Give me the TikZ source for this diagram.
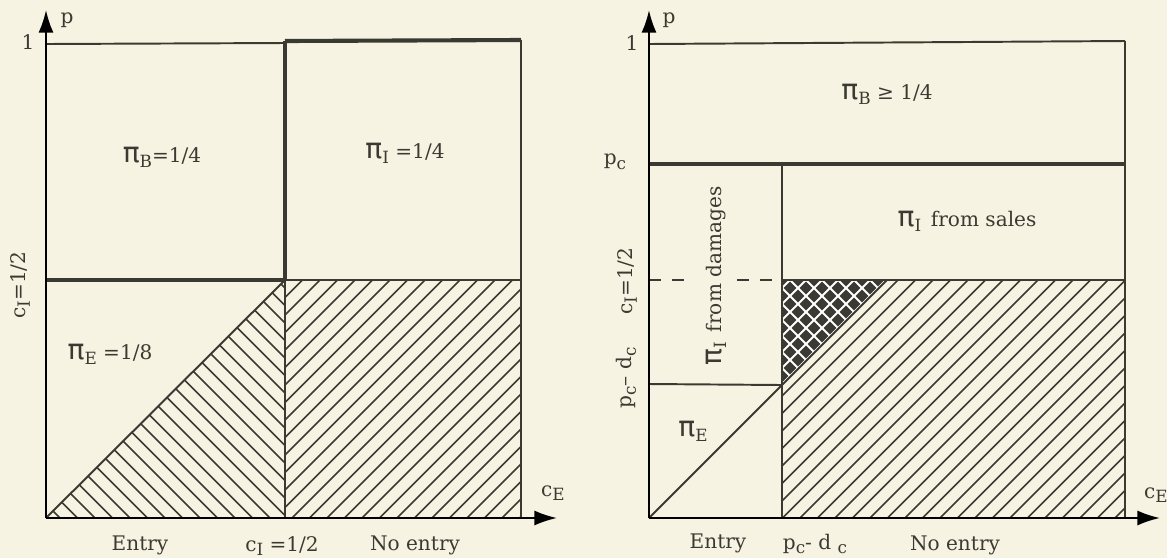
\documentclass[tikz,border=0pt]{standalone}
\usepackage{fontspec}
\setmainfont{DejaVu Serif}
\newfontfamily\greekfont{DejaVu Sans}
\usetikzlibrary{arrows.meta}
\definecolor{paper}{HTML}{F7F3E2}
\definecolor{ink}{HTML}{3A3A32}
\newcommand\bigpi{{\greekfont\fontsize{13}{13}\selectfont π}}
\newcommand\sub[1]{\raisebox{-0.45ex}{\fontsize{7.8}{8}\selectfont #1}}

\begin{document}
\begin{tikzpicture}[x=0.01627cm,y=-0.01627cm,
  axis/.style={-{Latex[length=10.5pt,width=7pt]},line width=1pt,black},
  edge/.style={line width=0.9pt,draw=ink},
  heavy/.style={line width=1.9pt,draw=ink},
  hatch/.style={line width=0.7pt,draw=ink},
  lbl/.style={font=\fontsize{9.3}{11}\selectfont,text=ink,inner sep=0pt}
]
\fill[paper] (0,0) rectangle (1167,558);
\useasboundingbox (0,0) rectangle (1167,558);

% left panel
\coordinate (o1) at (46,518);
\coordinate (ya) at (46,10);
\coordinate (xa) at (557,518);
\coordinate (mid) at (285,280);
\begin{scope}
  \clip (o1) -- (mid) -- (285,518) -- cycle;
  \foreach \k in {0,...,28} \draw[hatch] ({60+17.5*\k},518) -- ++(-260,-260);
\end{scope}
\begin{scope}
  \clip (285,280) rectangle (521,518);
  \foreach \k in {-15,...,14} \draw[hatch] ({292+17.5*\k},518) -- ++(260,-260);
\end{scope}
\draw[edge] (46,44) -- (285,43);
\draw[heavy] (285,41) -- (521,40);
\draw[edge] (521,40) -- (521,518);
\draw[heavy] (285,41) -- (mid);
\draw[edge] (mid) -- (285,518);
\draw[heavy] (46,280) -- (mid);
\draw[edge] (mid) -- (521,280);
\draw[edge] (o1) -- (mid);
\draw[axis] (o1) -- (ya);
\draw[axis] (o1) -- (xa);

\node[lbl] (p1) at (67,20) {p};
\node[lbl] (one1) at (28,42) {1};
\node[lbl,rotate=90] (ci1) at (20,285) {c\sub{I}=1/2};
\node[lbl] (pib1) at (162,157) {\bigpi\sub{B}=1/4};
\node[lbl] (pii1) at (405,153) {\bigpi\sub{I} =1/4};
\node[lbl] (pie1) at (110,354) {\bigpi\sub{E} =1/8};
\node[lbl] (entry1) at (140,545) {Entry};
\node[lbl] (cix1) at (282,546) {c\sub{I} =1/2};
\node[lbl] (noentry1) at (415,545) {No entry};
\node[lbl] (ce1) at (553,493) {c\sub{E}};

% right panel
\coordinate (o2) at (649,518);
\coordinate (yb) at (649,10);
\coordinate (xb) at (1160,518);
\coordinate (kink) at (782,385);
\coordinate (tip) at (887,280);
\begin{scope}
  \clip (782,518) -- (1125,518) -- (1125,280) -- (tip) -- (kink) -- cycle;
  \foreach \k in {-13,...,16} \draw[hatch] ({870+17.5*\k},518) -- ++(300,-300);
\end{scope}
\begin{scope}
  \clip (782,280) -- (tip) -- (kink) -- cycle;
  \fill[ink] (782,280) rectangle (887,385);
  \foreach \k in {-8,...,8} {
    \draw[white,line width=0.9pt] ({790+16*\k},280) -- ++(120,120);
    \draw[white,line width=0.9pt] ({790+16*\k},280) -- ++(-120,120);
  }
\end{scope}
\draw[edge] (649,44) -- (1125,41);
\draw[edge] (1125,41) -- (1125,518);
\draw[heavy] (649,164) -- (1125,164);
\draw[edge] (782,164) -- (782,518);
\draw[edge] (782,280) -- (1125,280);
\draw[edge,dash pattern=on 5.5pt off 5pt] (649,280) -- (685,280);
\draw[edge,dash pattern=on 5.5pt off 5pt] (737,280) -- (782,280);
\draw[edge] (649,384) -- (kink);
\draw[edge] (o2) -- (tip);
\draw[axis] (o2) -- (yb);
\draw[axis] (o2) -- (xb);

\node[lbl] (p2) at (669,20) {p};
\node[lbl] (one2) at (632,43) {1};
\node[lbl] (pc2) at (615,162) {p\sub{c}};
\node[lbl,rotate=90] (ci2) at (627,281) {c\sub{I}=1/2};
\node[lbl,rotate=90] (pcdc2) at (626,378) {p\sub{c}– d\sub{c}};
\node[lbl] (pib2) at (887,94) {\bigpi\sub{B} ≥ 1/4};
\node[lbl] (pis2) at (967,221) {\bigpi\sub{I}\, from sales};
\node[lbl,rotate=90] (pid2) at (716,276) {\bigpi\sub{I}\, from damages};
\node[lbl] (pie2) at (693,431) {\bigpi\sub{E}};
\node[lbl] (entry2) at (718,543) {Entry};
\node[lbl] (pcd2) at (815,544) {p\sub{c}- d \sub{c}};
\node[lbl] (noentry2) at (955,545) {No entry};
\node[lbl] (ce2) at (1156,495) {c\sub{E}};
\end{tikzpicture}
\end{document}
